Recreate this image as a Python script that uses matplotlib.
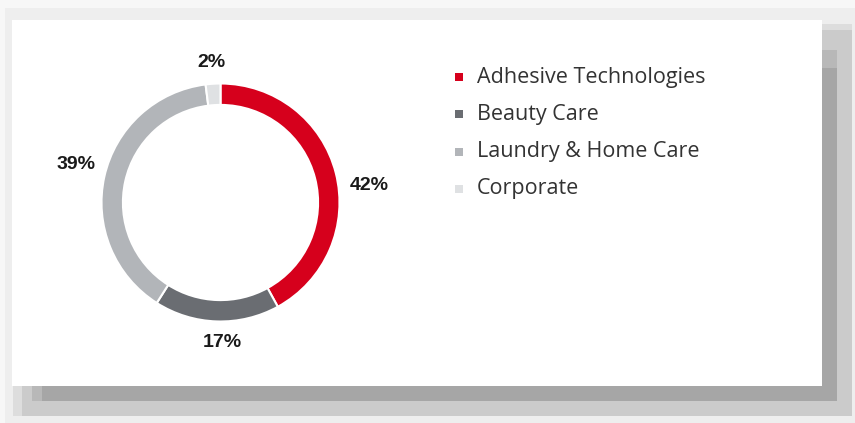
import matplotlib.pyplot as plt
from matplotlib.patches import Rectangle
import numpy as np

# Sales share by business unit
segments = ['Adhesive Technologies', 'Beauty Care', 'Laundry & Home Care', 'Corporate']
shares = [42, 17, 39, 2]
colors = ['#d6001c', '#6a6d72', '#b2b5b9', '#dfe1e3']

W, H = 855, 423
fig = plt.figure(figsize=(W / 100, H / 100), dpi=100)
fig.patch.set_facecolor('#f7f7f7')

# background layer in pixel coordinates: card with drop shadow
bg = fig.add_axes([0, 0, 1, 1])
bg.set_xlim(0, W)
bg.set_ylim(H, 0)
bg.axis('off')
bg.add_patch(Rectangle((5, 8), W - 5, H - 8, color='#eeeeee', lw=0))
bg.add_patch(Rectangle((13, 24), 839, 392, color='#dddddd', lw=0))
bg.add_patch(Rectangle((22, 30), 830, 386, color='#cbcbcb', lw=0))
bg.add_patch(Rectangle((32, 50), 805, 351, color='#b8b8b8', lw=0))
bg.add_patch(Rectangle((42, 68), 795, 333, color='#a6a6a6', lw=0))
bg.add_patch(Rectangle((12, 20), 810, 366, color='white', lw=0))

# legend drawn as square markers plus text
for i, (name, c) in enumerate(zip(segments, colors)):
    y = 77 + i * 37.3
    bg.add_patch(Rectangle((455, y - 4), 8, 8, color=c, lw=0))
    bg.text(477, y, name, fontsize=15.5, color='#333333', va='center', ha='left',
            family=['Open Sans', 'DejaVu Sans'])

# donut
cx, cy, r_px = 220.5, 202.5, 119
lim = 1.35
size = 2 * lim * r_px
ax = fig.add_axes([(cx - size / 2) / W, (H - cy - size / 2) / H, size / W, size / H])
wedges, _ = ax.pie(shares, colors=colors, startangle=90, counterclock=False, radius=1,
                   wedgeprops=dict(width=0.18, edgecolor='white', linewidth=1.5))
ax.set_xlim(-lim, lim)
ax.set_ylim(-lim, lim)
ax.axis('off')

# percentage labels outside the ring
nudge = [-7.4, 2.4, -3.1, 0]
for w, v, d in zip(wedges, shares, nudge):
    ang = np.deg2rad((w.theta1 + w.theta2) / 2 + d)
    ax.text(1.26 * np.cos(ang), 1.18 * np.sin(ang), f'{v}%', ha='center', va='center',
            fontsize=14, fontweight='bold', color='#1a1a1a',
            family=['Liberation Sans', 'DejaVu Sans'])

fig.savefig('out.png', dpi=100, facecolor=fig.get_facecolor())
